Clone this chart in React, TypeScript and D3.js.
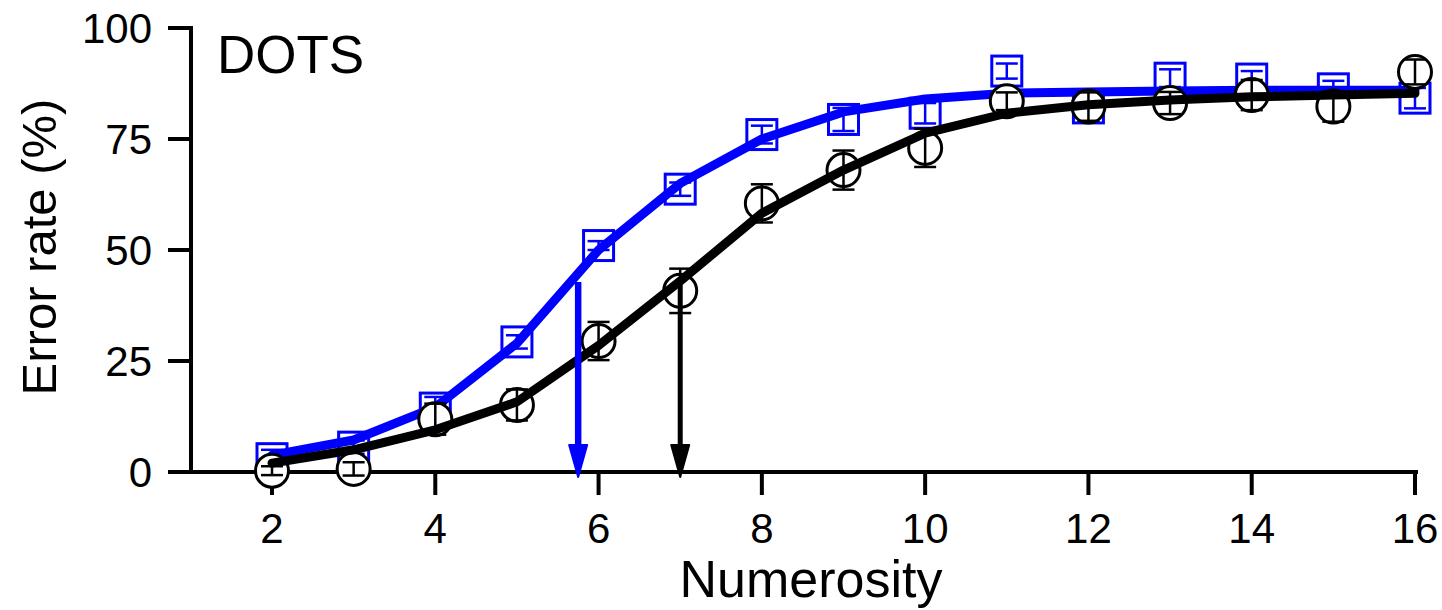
import React from "react";
import * as d3 from "d3";

const numerosity = [2, 3, 4, 5, 6, 7, 8, 9, 10, 11, 12, 13, 14, 15, 16];
const blueMean = [3.0, 5.6, 14.4, 29.3, 51.0, 63.7, 76.0, 79.4, 80.8, 90.3, 82.0, 88.7, 88.5, 86.3, 84.2];
const blueErr = [2, 1.5, 2.5, 1.5, 1, 1.5, 2, 2.6, 2.3, 1.7, 2, 2, 1.8, 1.8, 2.3];
const blackMean = [0.3, 0.7, 11.9, 15.1, 29.5, 40.8, 60.5, 68.0, 73.0, 83.5, 82.3, 83.1, 84.9, 82.3, 90.1];
const blackErr = [1, 1.5, 3.5, 3.5, 4.3, 5, 4.3, 4.4, 4.3, 2, 3.2, 2.5, 3.4, 3.4, 2.8];
const blueFit = [3.8, 7.2, 14.6, 29.0, 50.0, 65.0, 75.0, 81.1, 84.0, 85.3, 85.6, 85.8, 86.0, 86.0, 86.0];
const blackFit = [2.0, 5.0, 9.5, 15.8, 28.5, 43.0, 58.3, 68.0, 76.3, 80.8, 82.7, 83.8, 84.5, 84.9, 85.3];
const thresholds = [
  { x: 5.75, from: 42.8, color: "#0000ff", width: 6.5 },
  { x: 7.0, from: 43.0, color: "#000000", width: 5 },
];
const xTicks = [2, 4, 6, 8, 10, 12, 14, 16];
const yTicks = [0, 25, 50, 75, 100];
const panelLabel = "DOTS";
const xLabel = "Numerosity";
const yLabel = "Error rate (%)";

const FONT = "'Liberation Sans', Arial, sans-serif";
const BLUE = "#0000ff";

export default function App() {
  const x = d3.scaleLinear().domain([2, 16]).range([272, 1415]);
  const y = d3.scaleLinear().domain([0, 100]).range([472, 28]);
  const axisX = 191;
  const line = d3
    .line<number>()
    .x((_, i) => x(numerosity[i]))
    .y((d) => y(d))
    .curve(d3.curveLinear);

  const sq = 30;
  const r = 16.5;
  const capW = 11;

  const errBars = (means: number[], errs: number[], color: string) =>
    numerosity.map((n, i) => {
      const cx = x(n);
      const y1 = y(means[i] + errs[i]);
      const y0 = y(means[i] - errs[i]);
      return (
        <g key={"e" + i} stroke={color} strokeWidth={2.5}>
          <line x1={cx} x2={cx} y1={y1} y2={y0} />
          <line x1={cx - capW} x2={cx + capW} y1={y1} y2={y1} />
          <line x1={cx - capW} x2={cx + capW} y1={y0} y2={y0} />
        </g>
      );
    });

  return (
    <svg
      width={1442}
      height={610}
      style={{ position: "absolute", left: 0, top: 0, background: "#fff" }}
      fontFamily={FONT}
    >
      <rect width={1442} height={610} fill="#fff" />
      {/* axes */}
      <line x1={axisX} x2={axisX} y1={y(100) - 2} y2={y(0)} stroke="#000" strokeWidth={4} />
      <line x1={168} x2={x(16) + 3} y1={y(0)} y2={y(0)} stroke="#000" strokeWidth={4} />
      {yTicks.map((t) => (
        <g key={"yt" + t}>
          <line x1={168} x2={axisX} y1={y(t)} y2={y(t)} stroke="#000" strokeWidth={4} />
          <text x={152} y={y(t)} dy="0.36em" textAnchor="end" fontSize={42}>
            {t}
          </text>
        </g>
      ))}
      {xTicks.map((t) => (
        <g key={"xt" + t}>
          <line x1={x(t)} x2={x(t)} y1={y(0)} y2={y(0) + 23} stroke="#000" strokeWidth={4} />
          <text x={x(t)} y={543} textAnchor="middle" fontSize={42}>
            {t}
          </text>
        </g>
      ))}
      <text x={811} y={597} textAnchor="middle" fontSize={52}>
        {xLabel}
      </text>
      <text
        transform={`translate(56, 247) rotate(-90)`}
        textAnchor="middle"
        fontSize={49}
      >
        {yLabel}
      </text>
      <text x={217} y={73} fontSize={53}>
        {panelLabel}
      </text>

      {/* blue squares */}
      {numerosity.map((n, i) => (
        <rect
          key={"s" + i}
          x={x(n) - sq / 2}
          y={y(blueMean[i]) - sq / 2}
          width={sq}
          height={sq}
          fill="#fff"
          stroke={BLUE}
          strokeWidth={3}
        />
      ))}
      {errBars(blueMean, blueErr, BLUE)}
      <path d={line(blueFit) || ""} fill="none" stroke={BLUE} strokeWidth={9} strokeLinecap="round" strokeLinejoin="round" />

      {/* black circles */}
      {numerosity.map((n, i) => (
        <circle
          key={"c" + i}
          cx={x(n)}
          cy={y(blackMean[i])}
          r={r}
          fill="#fff"
          stroke="#000"
          strokeWidth={3}
        />
      ))}
      {errBars(blackMean, blackErr, "#000")}
      <path d={line(blackFit) || ""} fill="none" stroke="#000" strokeWidth={9} strokeLinecap="round" strokeLinejoin="round" />

      {/* threshold arrows */}
      {thresholds.map((a, i) => {
        const ax = x(a.x);
        const tip = y(0) + 5;
        const base = tip - 32;
        return (
          <g key={"a" + i}>
            <line x1={ax} x2={ax} y1={y(a.from)} y2={base + 2} stroke={a.color} strokeWidth={a.width} />
            <polygon
              points={`${ax - 9},${base} ${ax + 9},${base} ${ax},${tip}`}
              fill={a.color}
              stroke={a.color}
              strokeWidth={2}
              strokeLinejoin="round"
            />
          </g>
        );
      })}
    </svg>
  );
}
